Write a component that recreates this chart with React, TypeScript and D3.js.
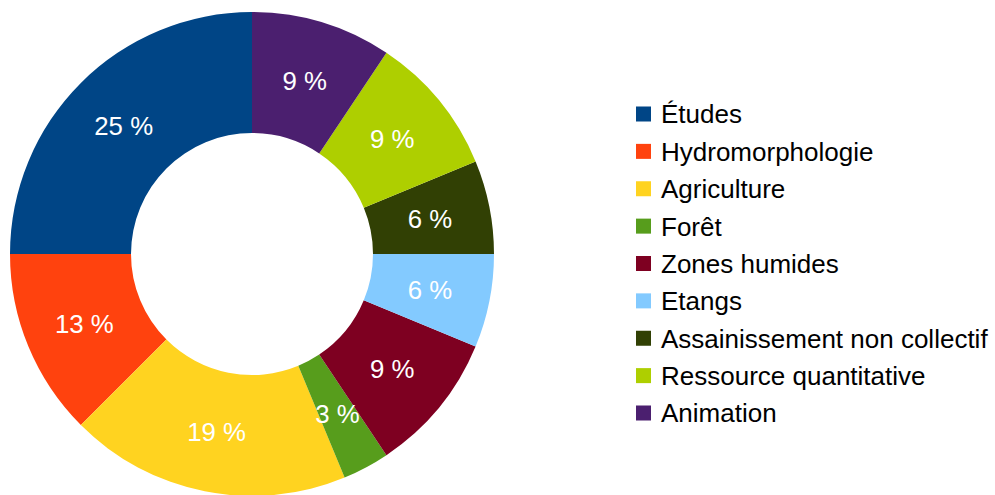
import React from "react";
import * as d3 from "d3";

const categories = [
  "Études",
  "Hydromorphologie",
  "Agriculture",
  "Forêt",
  "Zones humides",
  "Etangs",
  "Assainissement non collectif",
  "Ressource quantitative",
  "Animation",
];
const counts = [8, 4, 6, 1, 3, 2, 2, 3, 3];
const colors = [
  "#004586",
  "#ff420e",
  "#ffd320",
  "#579d1c",
  "#7e0021",
  "#83caff",
  "#314004",
  "#aecf00",
  "#4b1f6f",
];

const W = 995;
const H = 495;
const cx = 252;
const cy = 254;
const outerR = 242;
const innerR = 121;
const FONT = "'Liberation Sans', Arial, sans-serif";

export default function App() {
  const data = categories.map((c, i) => ({ name: c, value: counts[i], color: colors[i] }));
  const total = d3.sum(counts);
  const pie = d3
    .pie<any>()
    .value((d: any) => d.value)
    .sort(null)
    .startAngle(0)
    .endAngle(-2 * Math.PI);
  const arcs = pie(data);
  const arc = d3.arc<any>().innerRadius(innerR).outerRadius(outerR);
  const fmt = (v: number) => `${Math.round((v / total) * 100)} %`;

  const legendY = d3
    .scaleLinear()
    .domain([0, categories.length - 1])
    .range([114, 413]);

  return (
    <svg
      width={W}
      height={H}
      style={{ position: "absolute", left: 0, top: 0, background: "#fff" }}
      fontFamily={FONT}
    >
      <g transform={`translate(${cx},${cy})`}>
        {arcs.map((a, i) => (
          <path key={i} d={arc(a) as string} fill={a.data.color} />
        ))}
        {arcs.map((a, i) => {
          const [x, y] = arc.centroid(a);
          return (
            <text
              key={"l" + i}
              x={x}
              y={y}
              dy="0.36em"
              textAnchor="middle"
              fill="#fff"
              fontSize={25.8}
            >
              {fmt(a.data.value)}
            </text>
          );
        })}
      </g>
      <g>
        {data.map((d, i) => (
          <g key={i} transform={`translate(636,${legendY(i)})`}>
            <rect x={0} y={-7.5} width={15} height={15} fill={d.color} />
            <text x={25} y={0} dy="0.36em" fontSize={26} fill="#000">
              {d.name}
            </text>
          </g>
        ))}
      </g>
    </svg>
  );
}
